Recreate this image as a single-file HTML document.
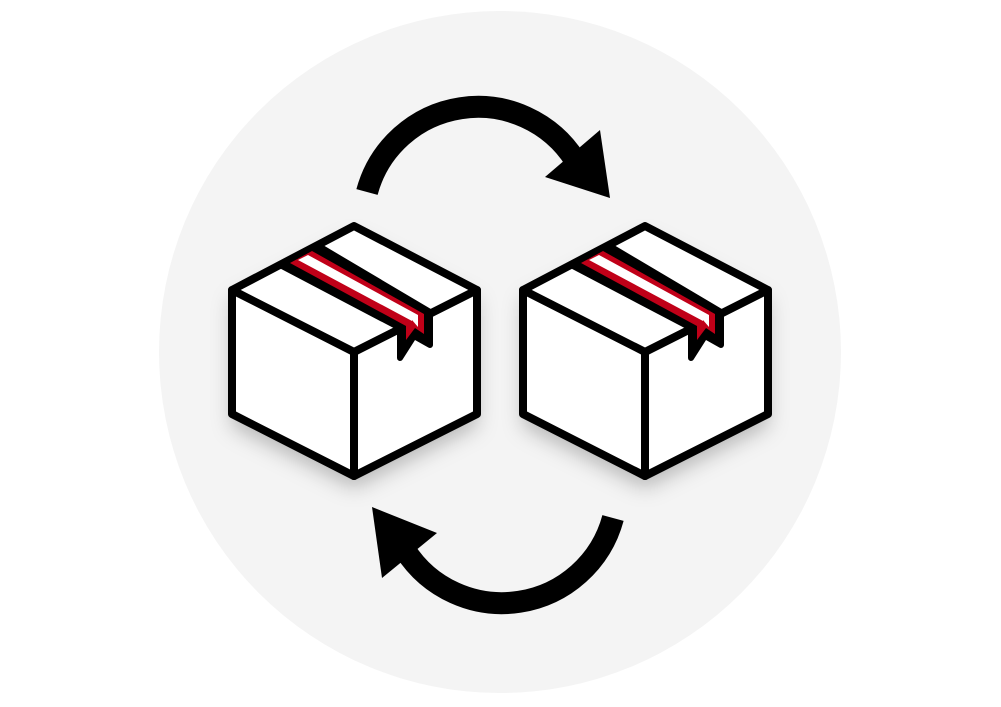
<!DOCTYPE html>
<html><head><style>html,body{margin:0;padding:0;background:#fff;}svg{display:block}</style></head>
<body>
<svg width="1001" height="707" viewBox="0 0 1001 707" xmlns="http://www.w3.org/2000/svg">
<defs>
<filter id="sh" x="-30%" y="-30%" width="160%" height="180%">
<feDropShadow dx="0" dy="12" stdDeviation="10" flood-color="#000" flood-opacity="0.25"/>
</filter>
<g id="box">
<g filter="url(#sh)">
<polygon points="354,226 477,290 477,414 354,476 232,414 232,290" fill="#fff"/>
</g>
<g stroke="#000" stroke-width="8" stroke-linejoin="round" stroke-linecap="round" fill="#fff">
<polygon points="354,226 477,290 477,414 354,476 232,414 232,290"/>
<polyline points="232,290 354,352 477,290" fill="none"/>
<line x1="354" y1="352" x2="354" y2="476"/>
</g>
<polygon points="280,265 317,245 430,312 430,345 414,336 400,358 400,328" fill="#000" stroke="#000" stroke-width="6" stroke-linejoin="round"/>
<polygon points="290,263 312,251 424,314 424,334 415,328 406,340 406,326" fill="#c00018"/>
<polygon points="298,260 308,255 418,315 418,327 412,320 412,321" fill="#fff"/>
</g>
</defs>
<circle cx="500" cy="352" r="341" fill="#f4f4f4"/>
<use href="#box"/>
<use href="#box" x="291"/>
<path d="M367,192 A115 115 0 0 1 575,160" fill="none" stroke="#000" stroke-width="22"/>
<polygon points="545,177 600,130 610,198" fill="#000"/>
<path d="M613,518 A115 115 0 0 1 405,550" fill="none" stroke="#000" stroke-width="22"/>
<polygon points="437,533 382,578 372,507" fill="#000"/>
</svg>
</body></html>
